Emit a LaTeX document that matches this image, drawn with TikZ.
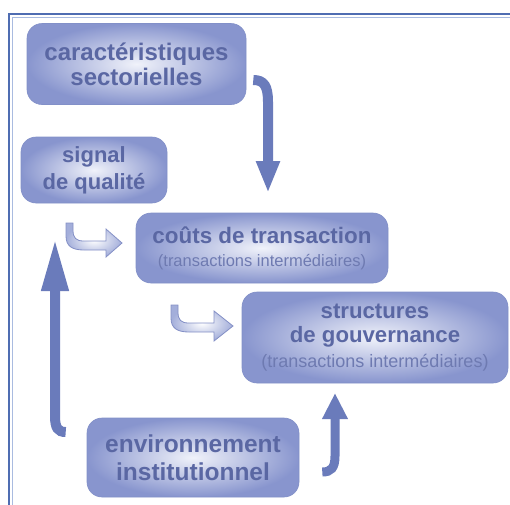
\documentclass[tikz,border=0pt]{standalone}
\usepackage{fontspec}
\setmainfont{Liberation Sans}
\usetikzlibrary{arrows.meta,calc}
\definecolor{framec}{HTML}{4F6DB2}
\definecolor{framel}{HTML}{A9BBE0}
\definecolor{boxout}{HTML}{8895CE}
\definecolor{boxin}{HTML}{F0F2FA}
\definecolor{boxedge}{HTML}{8290C8}
\definecolor{txt}{HTML}{5A67A3}
\definecolor{subtxt}{HTML}{6E7AB1}
\definecolor{arrc}{HTML}{6A7BBB}
\definecolor{hollowout}{HTML}{A3AEDA}
\definecolor{hollowedge}{HTML}{8490C6}
\tikzset{
  box/.style={rounded corners=15pt, shading=radial, inner color=boxin, outer color=boxout,
    draw=boxedge, line width=0.6pt, align=center, text=txt, inner sep=0pt},
  solidarrow/.style={draw=arrc, line width=10pt},
  hollowarrow/.style={draw=hollowedge, line width=0.8pt, shading=radial, inner color=white, outer color=hollowout},
}
\begin{document}
\begin{tikzpicture}[x=1pt,y=-1pt]
\useasboundingbox (0,0) rectangle (510,504);
% frame
\draw[framec, line width=2pt] (9,530) -- (9,14) -- (530,14);
\draw[framel, line width=0.8pt] (12,530) -- (12,17) -- (530,17);
% boxes
\node[box, minimum width=219pt, minimum height=81pt, font=\bfseries\fontsize{24}{25}\selectfont] (car) at (136.5,64) {caractéristiques\\sectorielles};
\node[box, minimum width=146pt, minimum height=66pt, font=\bfseries\fontsize{22}{27}\selectfont] (sig) at (94,170) {signal\\de qualité};
\node[box, minimum width=252pt, minimum height=70pt, font=\bfseries\fontsize{22.4}{23}\selectfont] (cou) at (262,248) {coûts de transaction\\{\mdseries\fontsize{16.5}{18}\selectfont\color{subtxt}(transactions intermédiaires)}};
\node[box, minimum width=266pt, minimum height=91pt, font=\bfseries\fontsize{22.2}{24.5}\selectfont] (str) at (375,337.5) {structures\\de gouvernance\\{\mdseries\fontsize{18}{20}\selectfont\color{subtxt}(transactions intermédiaires)}};
\node[box, minimum width=212pt, minimum height=79pt, font=\bfseries\fontsize{24.5}{28}\selectfont] (env) at (193,457.5) {environnement\\institutionnel};
% arrow end points
\coordinate (a1s) at ($(car.east)+(7,16)$);
\coordinate (a1e) at (268,193);
\coordinate (a2s) at ($(env.west)+(-21,-25.5)$);
\coordinate (a2e) at (55,238);
\coordinate (a3s) at ($(env.east)+(23,14.5)$);
\coordinate (a3e) at (335,393);
% solid arrows
\draw[solidarrow, -{Triangle[width=22pt,length=32pt]}] (a1s) .. controls (264,80) and (268,86) .. (268,102) -- (a1e);
\draw[solidarrow, -{Triangle[width=25pt,length=53pt]}] (a2s) .. controls (58,432) and (55,428) .. (55,416) -- (a2e);
\draw[solidarrow, line width=9pt, -{Triangle[width=24pt,length=26pt]}] (a3s) .. controls (331,472) and (335,468) .. (335,456) -- (a3e);
% hollow arrows
\shadedraw[hollowarrow] (66,223) -- (66,236) .. controls (66,246) and (72,250) .. (84,250) -- (106,250) -- (106,257) -- (122,243) -- (106,229) -- (106,241) -- (84,241) .. controls (76,241) and (73,238) .. (73,230) -- (73,223) -- cycle;
\shadedraw[hollowarrow] (171,305) -- (171,318) .. controls (171,328) and (177,332) .. (189,332) -- (214,332) -- (214,341) -- (233,326) -- (214,311) -- (214,323) -- (189,323) .. controls (181,323) and (178,320) .. (178,312) -- (178,305) -- cycle;
\end{tikzpicture}
\end{document}
